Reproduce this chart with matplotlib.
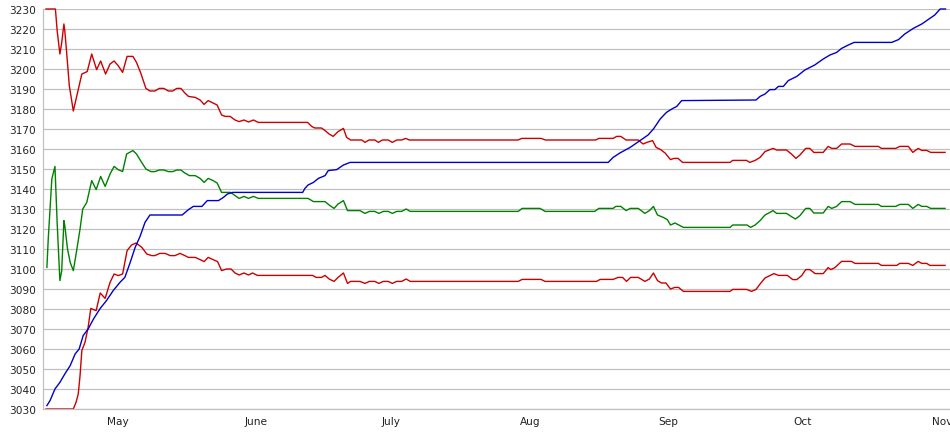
import matplotlib
matplotlib.use('Agg')
import matplotlib.pyplot as plt
import matplotlib.dates as mdates
import numpy as np
from datetime import datetime

# day offsets are counted from 15 April
base = datetime(2011, 4, 15)

month_starts = [datetime(2011, m, 1) for m in range(5, 12)]
month_labels = ['May', 'June', 'July', 'Aug', 'Sep', 'Oct', 'Nov']

upper_days = [0, 2.1, 2.5, 3.1, 3.5, 4.0, 4.2, 4.6, 5.2, 6.1, 6.9, 8.0, 9.2, 10.2, 11.3, 12.2,
              13.3, 14.3, 15.2, 16.1, 17.1, 18.1, 19.4, 20.2, 21.1, 22.3, 23.2, 24.3, 25.3,
              26.3, 27.3, 28.3, 29.2, 30.1, 31.0, 31.8, 33.3, 34.4, 35.3, 36.2, 37.3, 38.2,
              39.2, 40.0, 41.1, 42.2, 43.1, 44.2, 45.2, 46.3, 47.4, 58.4, 59.3, 60.0, 61.5,
              62.3, 63.2, 64.1, 65.2, 66.4, 67.1, 68.0, 70.5, 71.2, 72.1, 73.4, 74.2, 75.1,
              76.4, 77.3, 78.3, 79.4, 80.3, 81.1, 105.4, 106.2, 110.5, 111.5, 122.7, 123.4,
              126.6, 127.4, 128.3, 129.5, 132.2, 133.3, 134.1, 135.4, 136.2, 137.2, 138.2,
              139.4, 140.2, 141.1, 142.1, 152.7, 153.3, 156.4, 157.1, 158.3, 159.4, 160.5,
              161.6, 162.3, 163.1, 165.3, 166.4, 167.4, 168.3, 169.6, 170.5, 171.4, 173.5,
              174.6, 175.4, 176.5, 177.6, 179.5, 180.6, 185.8, 186.5, 189.7, 190.6, 192.5,
              193.5, 194.7, 195.5, 196.6, 197.5, 200.7]
upper_vals = [3230, 3230, 3219, 3207.5, 3213, 3222.5, 3219, 3208.5, 3191.7, 3179, 3186.7, 3197.5,
              3198.7, 3207.5, 3199.7, 3204, 3197.5, 3202.5, 3204, 3201.7, 3198.3, 3206.3, 3206.3,
              3203.3, 3198.3, 3190.3, 3189, 3189, 3190.3, 3190.3, 3189, 3189, 3190.3, 3190.3,
              3188, 3186.3, 3185.8, 3184.5, 3182.3, 3184.2, 3183, 3182, 3177, 3176.3, 3176.3,
              3174.5, 3173.7, 3174.5, 3173.5, 3174.5, 3173.3, 3173.3, 3171.3, 3170.5, 3170.5,
              3169.2, 3167.5, 3166.3, 3168.7, 3170.3, 3165.8, 3164.5, 3164.5, 3163.3, 3164.5,
              3164.5, 3163.3, 3164.5, 3164.5, 3163.3, 3164.5, 3164.5, 3165.3, 3164.5, 3164.5,
              3165.3, 3165.3, 3164.5, 3164.5, 3165.3, 3165.3, 3166.3, 3166.3, 3164.5, 3164.5,
              3162.5, 3163.3, 3164.2, 3160.8, 3159.7, 3158, 3154.7, 3155.3, 3155.3, 3153.3,
              3153.3, 3154.3, 3154.3, 3153.3, 3154.3, 3155.8, 3158.7, 3159.7, 3160.3, 3159.5,
              3159.5, 3157.5, 3155.3, 3157, 3160.3, 3160.3, 3158.3, 3158.3, 3161.3, 3160.3,
              3160.3, 3162.5, 3162.5, 3161.3, 3161.3, 3160.3, 3160.3, 3161.3, 3161.3, 3158.3,
              3160.3, 3159.3, 3159.3, 3158.3, 3158.3]

mid_days = [0.2, 0.5, 0.9, 1.3, 2.0, 2.5, 3.1, 3.5, 4.0, 4.2, 4.8, 5.4, 6.1, 6.9, 7.6, 8.2, 9.1,
            10.2, 11.2, 12.2, 13.2, 14.3, 15.2, 16.1, 17.1, 18.0, 19.4, 20.2, 21.1, 22.3, 23.4,
            24.3, 25.3, 26.3, 27.3, 28.3, 29.2, 30.1, 31.0, 32.0, 33.3, 34.4, 35.3, 36.2, 37.3,
            38.2, 39.2, 41.2, 42.2, 43.1, 44.2, 45.2, 46.3, 47.4, 58.5, 59.7, 62.3, 63.2, 64.3,
            65.2, 66.4, 67.3, 70.1, 71.2, 72.2, 73.4, 74.3, 75.3, 76.4, 77.3, 78.3, 79.4, 80.4,
            81.3, 105.4, 106.3, 110.3, 111.4, 122.5, 123.4, 126.6, 127.2, 128.3, 129.5, 130.4,
            132.2, 133.7, 134.7, 135.6, 136.5, 137.8, 138.7, 139.4, 140.4, 142.3, 152.7, 153.3,
            156.5, 157.3, 158.3, 159.4, 160.5, 161.6, 162.3, 163.1, 165.3, 166.4, 167.3, 168.3,
            169.6, 170.5, 171.4, 173.5, 174.6, 175.4, 176.5, 177.6, 179.5, 180.6, 185.8, 186.5,
            189.7, 190.6, 192.5, 193.5, 194.7, 195.5, 196.6, 197.5, 200.7]
mid_vals = [3100.8, 3115, 3130, 3145, 3151.3, 3122.5, 3094.2, 3099, 3124.2, 3121.7, 3110, 3103.3,
            3099.2, 3110, 3120, 3130, 3133.3, 3144.2, 3139.7, 3146.3, 3141.3, 3147.5, 3151.3,
            3149.7, 3148.7, 3157.5, 3159.2, 3157.5, 3154.2, 3150, 3148.7, 3148.7, 3149.5, 3149.5,
            3148.7, 3148.7, 3149.5, 3149.5, 3148, 3146.7, 3146.7, 3145.3, 3143.3, 3145.3, 3144.2,
            3143, 3138.3, 3138.3, 3136.7, 3135.3, 3136.3, 3135.3, 3136.3, 3135.3, 3135.3, 3133.7,
            3133.7, 3132, 3130.3, 3132.5, 3134.2, 3129.2, 3129.2, 3127.8, 3128.8, 3128.8, 3127.8,
            3128.8, 3128.8, 3127.8, 3128.8, 3128.8, 3130, 3128.8, 3128.8, 3130.3, 3130.3, 3128.8,
            3128.8, 3130.3, 3130.3, 3131.3, 3131.3, 3129.2, 3130.3, 3130.3, 3127.8, 3129.2,
            3131.3, 3127, 3125.8, 3124.7, 3122, 3123, 3120.8, 3120.8, 3122, 3122, 3120.8, 3122,
            3124.2, 3127, 3128.3, 3129.2, 3127.8, 3127.8, 3126.2, 3125, 3126.7, 3130.3, 3130.3,
            3128, 3128, 3131.3, 3130.3, 3131.3, 3133.7, 3133.7, 3132.3, 3132.3, 3131.3, 3131.3,
            3132.3, 3132.3, 3130.3, 3132.3, 3131.3, 3131.3, 3130.3, 3130.3]

lower_days = [0, 6.1, 6.7, 7.2, 7.6, 8.0, 8.7, 9.4, 10.0, 10.6, 11.2, 12.1, 13.2, 14.3, 15.2, 16.1,
              17.1, 18.1, 19.1, 20.1, 21.4, 22.5, 23.6, 24.3, 25.4, 26.6, 27.7, 28.8, 29.9, 31.0,
              31.8, 33.3, 34.4, 35.3, 36.2, 37.3, 38.3, 39.2, 40.3, 41.3, 42.2, 43.1, 44.2, 45.2,
              46.1, 47.2, 59.5, 60.3, 61.5, 62.3, 63.2, 64.3, 65.2, 66.4, 67.3, 68.0, 70.1, 71.2,
              72.2, 73.4, 74.3, 75.3, 76.4, 77.3, 78.3, 79.4, 80.4, 81.3, 105.4, 106.3, 110.5,
              111.4, 122.9, 123.7, 126.6, 127.7, 128.7, 129.6, 130.5, 132.2, 133.7, 134.7, 135.6,
              136.5, 137.4, 138.4, 139.4, 140.4, 141.2, 142.3, 152.7, 153.3, 156.4, 157.5, 158.5,
              159.4, 160.5, 161.6, 162.5, 163.5, 165.5, 166.7, 167.6, 168.7, 169.6, 170.5, 171.7,
              173.5, 174.6, 175.2, 176.1, 177.6, 179.8, 180.6, 185.8, 186.5, 189.9, 190.6, 192.5,
              193.5, 194.7, 195.5, 196.6, 197.3, 200.7]
lower_vals = [3030, 3030, 3033.3, 3037.5, 3046.7, 3059.2, 3063.3, 3070.8, 3080.3, 3079.7, 3079.2,
              3088, 3085.3, 3093.3, 3097.5, 3096.7, 3097.5, 3109.2, 3112, 3113, 3110.8, 3107.5,
              3106.7, 3106.7, 3107.8, 3107.8, 3106.7, 3106.7, 3107.8, 3106.7, 3105.8, 3105.8,
              3104.7, 3103.7, 3105.8, 3104.7, 3103.7, 3099.2, 3100, 3100, 3098, 3097, 3098, 3097,
              3098, 3096.8, 3096.8, 3095.8, 3095.8, 3096.8, 3095, 3093.8, 3095.8, 3098, 3092.8,
              3093.8, 3093.8, 3092.8, 3093.8, 3093.8, 3092.8, 3093.8, 3093.8, 3092.8, 3093.8,
              3093.8, 3095, 3093.8, 3093.8, 3094.8, 3094.8, 3093.8, 3093.8, 3094.8, 3094.8,
              3095.8, 3095.8, 3093.8, 3095.8, 3095.8, 3093.8, 3095, 3098, 3094.2, 3093, 3093,
              3090, 3090.8, 3090.8, 3088.8, 3088.8, 3089.8, 3089.8, 3088.8, 3089.8, 3092.5,
              3095.5, 3096.7, 3097.7, 3096.8, 3096.8, 3094.7, 3094.7, 3096.7, 3099.7, 3099.7,
              3097.7, 3097.7, 3100.7, 3099.7, 3100.7, 3103.8, 3103.8, 3102.8, 3102.8, 3101.8,
              3101.8, 3102.8, 3102.8, 3101.8, 3103.8, 3102.8, 3102.8, 3101.8, 3101.8]

blue_days = [0.2, 0.9, 2.0, 3.1, 4.2, 5.4, 6.5, 7.4, 8.3, 9.4, 10.6, 12.1, 13.5, 15.0, 16.5, 17.6,
             18.8, 19.9, 21.0, 22.1, 23.2, 30.4, 31.8, 32.9, 34.8, 36.0, 38.5, 39.6, 40.5, 41.7,
             57.3, 57.8, 58.5, 59.7, 60.8, 62.3, 63.0, 64.9, 66.4, 67.9, 125.5, 126.6, 128.1,
             130.4, 132.6, 134.4, 135.6, 137.1, 138.5, 139.7, 140.8, 141.9, 158.5, 159.4, 160.5,
             161.6, 162.7, 163.5, 164.6, 165.7, 167.6, 169.4, 171.6, 173.5, 175.0, 176.5, 177.6,
             179.1, 180.4, 188.8, 190.3, 191.7, 193.6, 195.5, 197.3, 198.4, 199.6, 200.8]
blue_vals = [3031.7, 3034.2, 3040, 3043.3, 3047.5, 3051.7, 3057.5, 3060, 3066.7, 3070, 3075,
             3080.3, 3084.2, 3089.2, 3093.3, 3095.8, 3103.3, 3110.8, 3116.3, 3123.3, 3127, 3127,
             3129.7, 3131.3, 3131.3, 3134.2, 3134.2, 3135.8, 3137.5, 3138.3, 3138.3, 3140.3,
             3142, 3143.3, 3145.3, 3146.7, 3149.2, 3149.7, 3152, 3153.3, 3153.3, 3155.8, 3158,
             3160.8, 3164.2, 3167, 3170, 3175, 3178.3, 3180, 3181.3, 3184.2, 3184.5, 3186.3,
             3187.5, 3189.7, 3189.7, 3191.3, 3191.3, 3194.2, 3196.3, 3199.5, 3202, 3205, 3207,
             3208.3, 3210.3, 3212, 3213.3, 3213.3, 3214.7, 3217.5, 3220.3, 3222.5, 3225.3, 3227,
             3230, 3230]

start = mdates.date2num(base)


def to_x(days):
    return start + np.array(days)


fig = plt.figure(figsize=(9.5, 4.35), dpi=100)
ax = fig.add_axes([43 / 950, 25 / 435, 1 - 43 / 950, 400 / 435])

ax.plot(to_x(upper_days), upper_vals, color='#cc0000', lw=1.0, clip_on=False)
ax.plot(to_x(lower_days), lower_vals, color='#cc0000', lw=1.0, clip_on=False)
ax.plot(to_x(mid_days), mid_vals, color='#008000', lw=1.0, clip_on=False)
ax.plot(to_x(blue_days), blue_vals, color='#0000cc', lw=1.0, clip_on=False)

ax.set_ylim(3030, 3230)
ax.set_yticks(np.arange(3030, 3231, 10))
ax.set_xlim(start - 0.67, start + 201.8)
ax.set_xticks(mdates.date2num(month_starts))
ax.set_xticklabels(month_labels)

ax.grid(axis='y', color='#c0c0c0', lw=0.9)
ax.set_axisbelow(True)
for s in ['top', 'right']:
    ax.spines[s].set_visible(False)
for s in ['left', 'bottom']:
    ax.spines[s].set_color('#c0c0c0')
    ax.spines[s].set_linewidth(0.9)
ax.tick_params(length=0, labelsize=7.6, colors='#222222', pad=5)

fig.savefig('out.png', dpi=100)
